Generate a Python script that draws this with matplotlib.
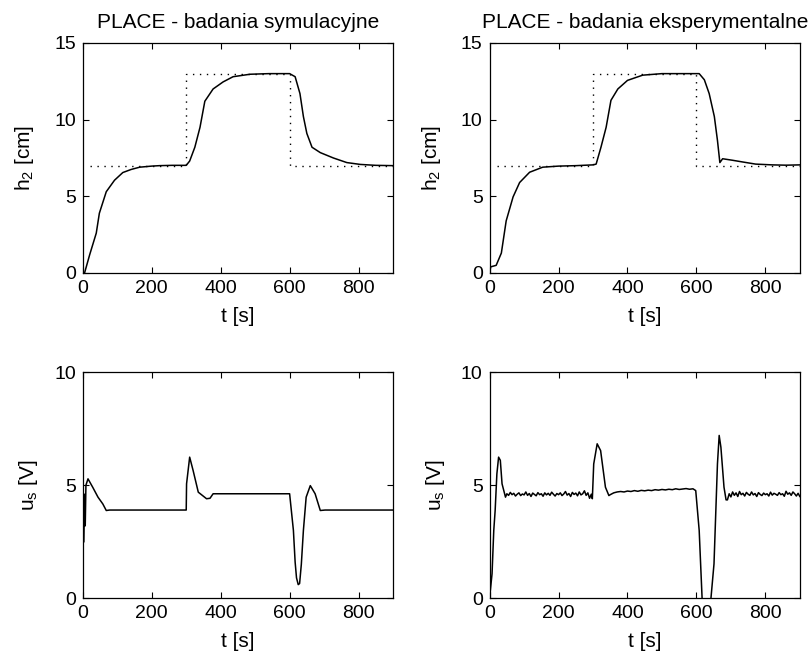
import numpy as np
import matplotlib
matplotlib.use("Agg")
import matplotlib.pyplot as plt

plt.rcParams["font.family"] = ["Liberation Sans", "DejaVu Sans"]
plt.rcParams["mathtext.default"] = "regular"
plt.rcParams["font.size"] = 14

# --- wartosc zadana h2 ---
t_ref = [20, 300, 300, 600, 600, 900]
h_ref = [7, 7, 13, 13, 7, 7]

# --- h2 symulacja ---
t_h_sim = [0, 5, 20, 39, 48, 68, 92, 116, 140, 165, 200, 223, 260, 300,
           310, 325, 340, 354, 378, 407, 436, 485, 540, 600,
           616, 630, 640, 650, 665, 689, 727, 766, 805, 850, 900]
h_h_sim = [0, 0, 1.2, 2.6, 3.9, 5.3, 6.05, 6.55, 6.75, 6.9, 6.97, 7.0, 7.02, 7.02,
           7.3, 8.2, 9.5, 11.2, 12.0, 12.46, 12.8, 12.96, 13.0, 13.0,
           12.8, 11.7, 10.2, 9.1, 8.2, 7.85, 7.5, 7.2, 7.08, 7.02, 7.0]

# --- h2 eksperyment ---
t_h_exp = [0, 3, 19, 34, 48, 68, 87, 116, 154, 200, 251, 270, 300, 309,
           323, 338, 352, 372, 400, 444, 500, 560, 608,
           623, 637, 652, 661, 668, 676, 705, 734, 772, 820, 860, 900]
h_h_exp = [0, 0.4, 0.5, 1.3, 3.4, 4.96, 5.9, 6.57, 6.9, 6.97, 7.0, 7.02, 7.05, 7.1,
           8.2, 9.5, 11.26, 12.0, 12.56, 12.9, 13.0, 13.0, 13.0,
           12.6, 11.7, 10.2, 8.65, 7.2, 7.45, 7.35, 7.24, 7.1, 7.05, 7.03, 7.05]

# --- u_s symulacja ---
t_u_sim = [3, 5, 7, 9, 15, 29, 44, 58, 68, 78, 300,
           301, 310, 320, 335, 359, 369, 378, 600,
           611, 616, 620, 625, 629, 634, 640, 648, 660, 674, 689, 703, 900]
u_u_sim = [2.5, 4.6, 3.2, 5.0, 5.28, 4.9, 4.47, 4.17, 3.88, 3.9, 3.9,
           5.06, 6.24, 5.65, 4.69, 4.4, 4.42, 4.62, 4.62,
           3.0, 1.6, 0.9, 0.6, 0.65, 1.5, 3.0, 4.47, 4.98, 4.62, 3.88, 3.9, 3.9]

# --- u_s eksperyment (odczytane fragmentami) ---
t_u_exp_a = [0, 2, 7, 12, 16, 21, 26, 31, 36, 46]
u_u_exp_a = [0.3, 0.34, 1.08, 3.0, 3.88, 5.5, 6.24, 6.1, 5.06, 4.47]

t_u_exp_b = list(range(50, 300, 5))
u_u_exp_b = [4.62, 4.55, 4.68, 4.58, 4.64, 4.52, 4.60, 4.66, 4.54, 4.61,
             4.57, 4.70, 4.55, 4.63, 4.50, 4.65, 4.59, 4.53, 4.67, 4.58,
             4.62, 4.51, 4.66, 4.57, 4.64, 4.55, 4.69, 4.60, 4.52, 4.63,
             4.58, 4.66, 4.54, 4.61, 4.72, 4.56, 4.63, 4.50, 4.68, 4.59,
             4.65, 4.53, 4.70, 4.57, 4.62, 4.75, 4.55, 4.66, 4.42, 4.60]

t_u_exp_c = [298, 302, 312, 322, 336, 346]
u_u_exp_c = [4.4, 5.94, 6.83, 6.53, 4.91, 4.54]

t_u_exp_d = list(range(350, 600, 10))
u_u_exp_d = [4.58, 4.66, 4.70, 4.72, 4.70, 4.74, 4.72, 4.76, 4.73, 4.77,
             4.75, 4.78, 4.76, 4.80, 4.78, 4.81, 4.79, 4.82, 4.80, 4.84,
             4.81, 4.83, 4.85, 4.82, 4.84]

t_u_exp_e = [598, 608, 617, 630, 641, 651, 661, 666, 671, 680, 686]
u_u_exp_e = [4.76, 3.0, -0.2, -1.5, -0.2, 1.52, 5.94, 7.2, 6.68, 4.91, 4.35]

t_u_exp_f = list(range(690, 905, 5))
u_u_exp_f = [4.35, 4.62, 4.48, 4.70, 4.55, 4.66, 4.50, 4.72, 4.58, 4.64,
             4.52, 4.68, 4.60, 4.55, 4.70, 4.57, 4.63, 4.50, 4.67, 4.59,
             4.54, 4.65, 4.58, 4.62, 4.52, 4.69, 4.56, 4.64, 4.60, 4.55,
             4.67, 4.58, 4.62, 4.51, 4.73, 4.60, 4.66, 4.55, 4.70, 4.62,
             4.52, 4.64, 4.50]

t_u_exp = t_u_exp_a + t_u_exp_b + t_u_exp_c + t_u_exp_d + t_u_exp_e + t_u_exp_f
u_u_exp = u_u_exp_a + u_u_exp_b + u_u_exp_c + u_u_exp_d + u_u_exp_e + u_u_exp_f

tytuly = ["PLACE - badania symulacyjne", "PLACE - badania eksperymentalne"]
ROZMIAR_OPISU = 15


def styl_osi(ax, yticks):
    ax.set_xlim(0, 900)
    ax.set_xticks([0, 200, 400, 600, 800])
    ax.set_yticks(yticks)
    ax.set_ylim(yticks[0], yticks[-1])
    ax.tick_params(direction="in", top=True, right=True, length=4, width=0.8, pad=5)
    for s in ax.spines.values():
        s.set_linewidth(0.9)
    ax.set_xlabel("t [s]", labelpad=7, fontsize=ROZMIAR_OPISU)


fig = plt.figure(figsize=(8.12, 6.61), dpi=100)

lewo = [0.102, 0.603]
szer = 0.382
osie_gora = [fig.add_axes([l, 0.587, szer, 0.348]) for l in lewo]
osie_dol = [fig.add_axes([l, 0.095, szer, 0.342]) for l in lewo]

dane_h = [(t_h_sim, h_h_sim), (t_h_exp, h_h_exp)]
dane_u = [(t_u_sim, u_u_sim), (t_u_exp, u_u_exp)]

for i in range(2):
    ax = osie_gora[i]
    ax.plot(t_ref, h_ref, color="black", linestyle=(0, (1, 4)), linewidth=1.0)
    ax.plot(dane_h[i][0], dane_h[i][1], color="black", linewidth=1.1)
    styl_osi(ax, [0, 5, 10, 15])
    ax.set_ylabel("h$_2$ [cm]", labelpad=13, fontsize=ROZMIAR_OPISU)
    ax.set_title(tytuly[i], fontsize=15, pad=11)

    ax = osie_dol[i]
    ax.plot(dane_u[i][0], dane_u[i][1], color="black", linewidth=1.1)
    styl_osi(ax, [0, 5, 10])
    ax.set_ylabel("u$_s$ [V]", labelpad=10, fontsize=ROZMIAR_OPISU)

fig.savefig("out.png", dpi=100)
plt.close(fig)
